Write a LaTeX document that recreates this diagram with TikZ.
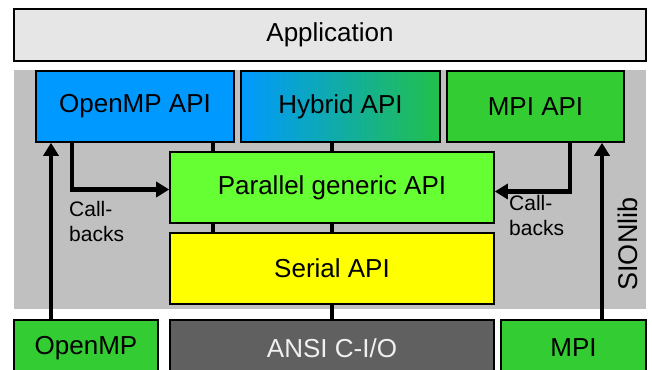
\documentclass[tikz,border=0pt]{standalone}
\usepackage{fontspec}
\setmainfont{Liberation Sans}
\usetikzlibrary{arrows.meta}
\definecolor{appgray}{HTML}{E6E6E6}
\definecolor{bggray}{HTML}{C0C0C0}
\definecolor{ompblue}{HTML}{0099FF}
\definecolor{mpigreen}{HTML}{33CC33}
\definecolor{hybgreen}{HTML}{22C04A}
\definecolor{pargreen}{HTML}{66FF33}
\definecolor{seryellow}{HTML}{FFFF00}
\definecolor{ansigray}{HTML}{606060}
\tikzset{
  box/.style={draw=black, line width=1.6pt, inner sep=0pt, font=\fontsize{26}{30}\selectfont},
  conn/.style={line width=4.5pt, line cap=butt},
  arr/.style={line width=4.5pt, -{Triangle[length=13pt,width=15pt]}},
  lbl/.style={inner sep=0pt, align=left, font=\fontsize{21}{25}\selectfont},
}
\begin{document}
\begin{tikzpicture}[x=1pt,y=-1pt]
\useasboundingbox (0,0) rectangle (652,369);
\clip (0,0) rectangle (652,369);
\fill[white] (0,0) rectangle (652,369);
% background of SIONlib
\fill[bggray] (14,70) rectangle (646,309);
\node[box, fill=appgray, minimum width=632pt, minimum height=52pt] (app) at (330,35) {Application};
\node[box, fill=ompblue, minimum width=198pt, minimum height=71pt] (ompapi) at (135,106.5) {OpenMP API};
\node[box, left color=ompblue, right color=hybgreen, minimum width=199pt, minimum height=71pt] (hybapi) at (340.5,106.5) {Hybrid API};
\node[box, fill=mpigreen, minimum width=177pt, minimum height=71pt] (mpiapi) at (535.5,106.5) {MPI API};
\node[box, fill=pargreen, minimum width=324pt, minimum height=71pt] (par) at (332,187.5) {Parallel generic API};
\node[box, fill=seryellow, minimum width=324pt, minimum height=71pt] (ser) at (332,268.5) {Serial API};
\node[box, fill=mpigreen, minimum width=144pt, minimum height=56pt] (omp) at (86,348) {OpenMP};
\node[box, fill=ansigray, text=white!94!black, minimum width=324pt, minimum height=56pt] (ansi) at (332,348) {ANSI C-I/O};
\node[box, fill=mpigreen, minimum width=145pt, minimum height=56pt] (mpi) at (573.5,348) {MPI};
% plain connectors
\draw[conn] ([xshift=78pt]ompapi.south) -- ([xshift=78pt]ompapi.south |- par.north);
\draw[conn] (hybapi.south -| par.north) -- (par.north);
\draw[conn] ([xshift=-119pt]par.south) -- ([xshift=-119pt]ser.north);
\draw[conn] (par.south) -- (ser.north);
\draw[conn] (ser.south) -- (ansi.north);
% callback arrows
\draw[arr] ([xshift=-63pt]ompapi.south) |- ([yshift=-2pt]par.west);
\draw[arr] ([xshift=34.5pt]mpiapi.south) |- ([yshift=-4pt]par.east);
% up arrows
\draw[arr] ([xshift=-35pt]omp.north) -- ([xshift=-35pt]omp.north |- ompapi.south);
\draw[arr] ([xshift=28.5pt]mpi.north) -- ([xshift=28.5pt]mpi.north |- mpiapi.south);
% labels
\node[lbl, anchor=north west] (cbl) at (69,201) {Call-\\backs};
\node[lbl, anchor=north west] (cbr) at (509,195) {Call-\\backs};
\node[lbl, rotate=90, font=\fontsize{27}{30}\selectfont] (sion) at (628,244) {SIONlib};
\end{tikzpicture}
\end{document}
